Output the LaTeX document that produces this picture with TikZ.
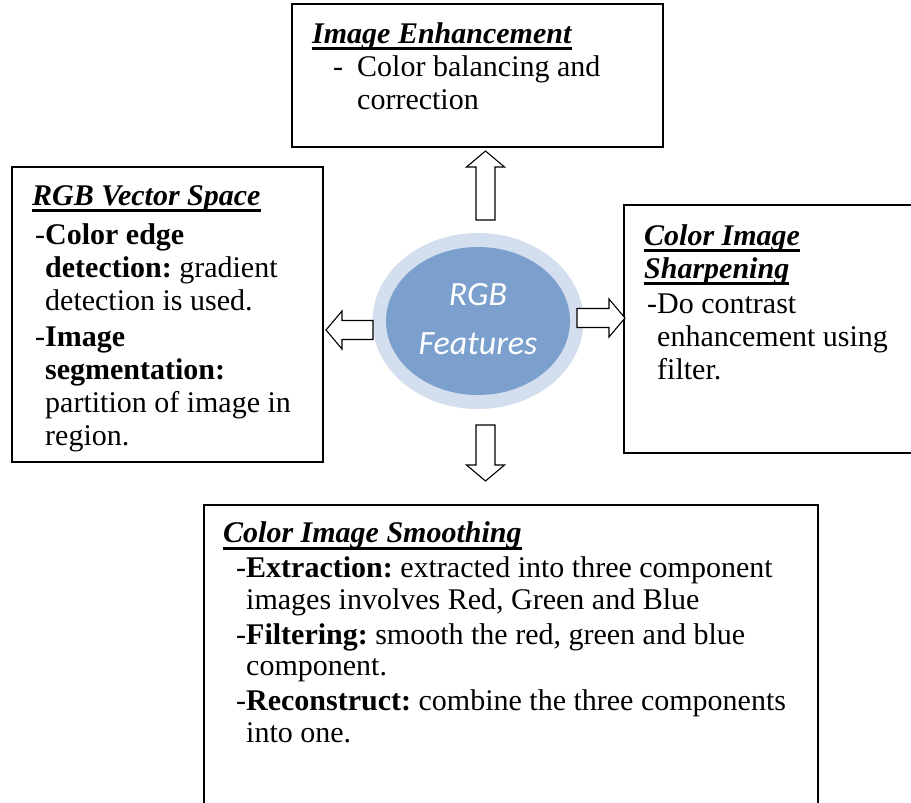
\documentclass[tikz,border=0pt]{standalone}
\usepackage{fontspec}
\setmainfont{Liberation Serif}
\newfontfamily\calib{Carlito}
\usetikzlibrary{shapes.geometric}
\frenchspacing

\definecolor{ringblue}{HTML}{D3DEEE}
\definecolor{coreblue}{HTML}{7BA0CD}

% heading text with a heavy underline
\newcommand{\headul}[1]{\setbox0\hbox{\textbf{\textit{#1}}}\rlap{\usebox0}\rule[-7pt]{\wd0}{2.6pt}}

\tikzset{
  panel/.style={draw=black, line width=1.3pt, fill=white},
  bodytext/.style={anchor=base west, align=left, inner sep=0pt,
    font=\fontsize{30}{33}\selectfont},
  arrowline/.style={draw=black, line width=1.1pt, fill=white, line join=miter},
  pics/blockarrow/.style={code={
    \draw[arrowline] (0,-9.5) -- ({#1-16},-9.5) -- ({#1-16},-19) -- (#1,0)
      -- ({#1-16},19) -- ({#1-16},9.5) -- (0,9.5) -- cycle;}}
}

\begin{document}
\begin{tikzpicture}[x=1pt, y=-1pt]
\useasboundingbox (0,0) rectangle (911,803);
\fill[white] (0,0) rectangle (911,803);

% panels
\draw[panel] (292,4) rectangle (663,147);
\draw[panel] (12,167) rectangle (323,462);
\draw[panel] (624,205) rectangle (930,453);
\draw[panel] (204,505) rectangle (818,830);

% central ellipse
\node[ellipse, fill=ringblue, minimum width=211pt, minimum height=176pt, inner sep=0pt] (ring) at (478,321) {};
\node[ellipse, fill=coreblue, minimum width=184pt, minimum height=148pt, inner sep=0pt] (core) at (478,321) {};
\node[align=center, inner sep=0pt, text=white, font=\calib\itshape\fontsize{34}{49}\selectfont]
  (corelabel) at (478,319) {RGB\\Features};

% block arrows leaving the ellipse
\coordinate (upfoot) at (485.5,220);
\coordinate (rightfoot) at (577,318);
\coordinate (downfoot) at (485.5,425);
\coordinate (leftfoot) at (373,330);
\pic[rotate=90] at (upfoot) {blockarrow=69};
\pic at (rightfoot) {blockarrow=48};
\pic[rotate=-90] at (downfoot) {blockarrow=56};
\pic[rotate=180] at (leftfoot) {blockarrow=47};

% panel texts (each node is anchored at the baseline of its last line)
\node[bodytext] (enhtext) at (312,109) {\headul{Image Enhancement}\\
\hspace*{21pt}-\hspace{14pt}Color balancing and\\
\hspace*{45pt}correction};

\node[bodytext] (vectext) at (32,445) {\headul{RGB Vector Space}\\[6pt]
\hspace*{3pt}-\textbf{Color edge}\\
\hspace*{3pt}\phantom{-}\textbf{detection:} gradient\\
\hspace*{3pt}\phantom{-}detection is used.\\[3pt]
\hspace*{3pt}-\textbf{Image}\\
\hspace*{3pt}\phantom{-}\textbf{segmentation:}\\
\hspace*{3pt}\phantom{-}partition of image in\\
\hspace*{3pt}\phantom{-}region.};

\node[bodytext] (sharptext) at (644,379) {\headul{Color Image}\\
\headul{Sharpening}\\[2pt]
\hspace*{3pt}-Do contrast\\
\hspace*{3pt}\phantom{-}enhancement using\\
\hspace*{3pt}\phantom{-}filter.};

\node[bodytext, font=\fontsize{30}{31.5}\selectfont] (smoothtext) at (223,742) {\headul{Color Image Smoothing}\\[3.5pt]
\hspace*{13pt}-\textbf{Extraction:} extracted into three component\\
\hspace*{13pt}\phantom{-}images involves Red, Green and Blue\\[3.5pt]
\hspace*{13pt}-\textbf{Filtering:} smooth the red, green and blue\\
\hspace*{13pt}\phantom{-}component.\\[3.5pt]
\hspace*{13pt}-\textbf{Reconstruct:} combine the three components\\
\hspace*{13pt}\phantom{-}into one.};
\end{tikzpicture}
\end{document}
